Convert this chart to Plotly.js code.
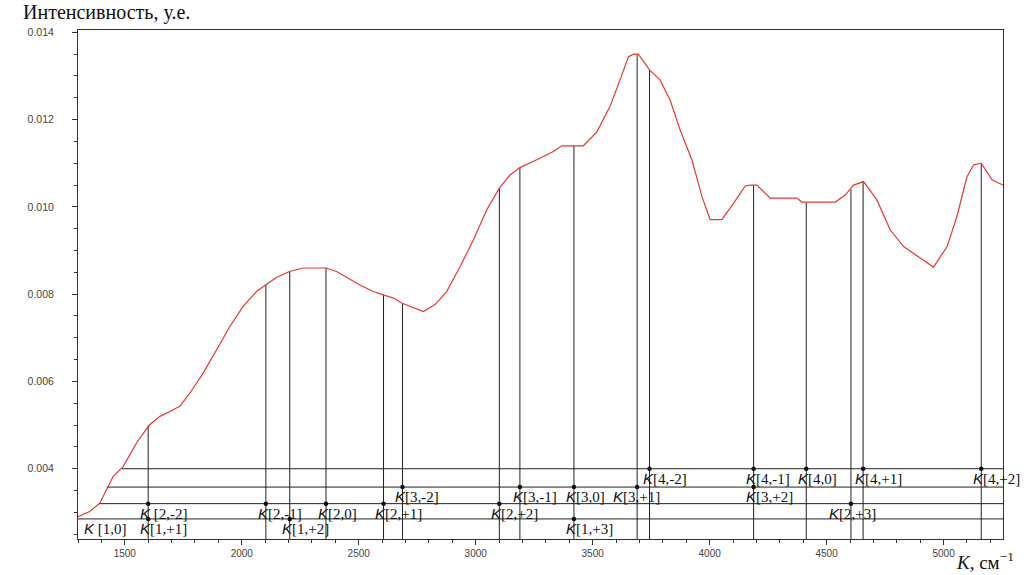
<!DOCTYPE html>
<html>
<head>
<meta charset="utf-8">
<script src="https://cdn.plot.ly/plotly-3.0.1.min.js"></script>
<style>html,body{margin:0;padding:0;background:#fff;}#chart{width:1033px;height:575px;}</style>
</head>
<body>
<div id="chart"></div>
<script>
// Spectrum curve (K in cm^-1, intensity in a.u.)
var curveK = [1300, 1308, 1350, 1393, 1422, 1450, 1493, 1550, 1603, 1650, 1692, 1735, 1778, 1835, 1892, 1949, 2006, 2063, 2102, 2149, 2204, 2263, 2360, 2405, 2448, 2505, 2562, 2605, 2648, 2686, 2719, 2776, 2826, 2876, 2933, 2990, 3047, 3101, 3147, 3189, 3261, 3332, 3368, 3460, 3518, 3574, 3617, 3653, 3675, 3695, 3743, 3788, 3831, 3874, 3924, 3967, 4002, 4052, 4102, 4152, 4175, 4202, 4259, 4373, 4394, 4537, 4580, 4615, 4658, 4715, 4772, 4829, 4886, 4957, 5015, 5057, 5100, 5128, 5161, 5207, 5254];
var curveI = [0.00290, 0.00292, 0.00302, 0.00321, 0.00352, 0.00382, 0.00405, 0.00459, 0.00499, 0.00520, 0.00531, 0.00543, 0.00573, 0.00619, 0.00672, 0.00726, 0.00772, 0.00806, 0.00821, 0.00839, 0.00852, 0.00860, 0.00860, 0.00852, 0.00839, 0.00821, 0.00806, 0.00799, 0.00791, 0.00779, 0.00772, 0.00760, 0.00776, 0.00806, 0.00863, 0.00924, 0.00993, 0.01043, 0.01073, 0.01090, 0.01108, 0.01127, 0.01140, 0.01140, 0.01172, 0.01230, 0.01291, 0.01344, 0.01350, 0.01350, 0.01314, 0.01291, 0.01245, 0.01176, 0.01108, 0.01024, 0.00971, 0.00971, 0.01008, 0.01048, 0.01050, 0.01050, 0.01020, 0.01020, 0.01011, 0.01011, 0.01027, 0.01050, 0.01058, 0.01016, 0.00947, 0.00909, 0.00888, 0.00862, 0.00909, 0.00978, 0.01069, 0.01096, 0.01100, 0.01062, 0.01050];

// Level lines K[1..4, *]
var levelValues = [0.00285, 0.00320, 0.00358, 0.00400];
var levelStartK = [1300, 1390, 1422, 1487];

// Vertical drop lines
var dropK   = [1600, 2103, 2205, 2360, 2606, 2687, 3101, 3189, 3420, 3690, 3743, 4188, 4413, 4604, 4656, 5161];
var dropTop = [0.00499, 0.00822, 0.00852, 0.00860, 0.00799, 0.00779, 0.01043, 0.01090, 0.01140, 0.01350, 0.01314, 0.01050, 0.01010, 0.01040, 0.01058, 0.01100];

// Labels: text index, K position, level number (1..4)
var labelIdx   = ["1,0", "2,-2", "1,+1", "2,-1", "1,+2", "2,0", "2,+1", "3,-2", "2,+2", "3,-1", "3,0", "1,+3", "3,+1", "4,-2", "4,-1", "3,+2", "4,0", "2,+3", "4,+1", "4,+2"];
var labelK     = [1300, 1600, 1600, 2103, 2205, 2360, 2606, 2687, 3101, 3189, 3420, 3420, 3690, 3743, 4188, 4188, 4413, 4604, 4656, 5161];
var labelLevel = [1, 2, 1, 2, 1, 2, 2, 3, 2, 3, 3, 1, 3, 4, 4, 3, 4, 2, 4, 4];
var labelSpace = [true, true, false, false, false, false, false, false, false, false, false, false, false, false, false, false, false, false, false, false];
var labelShift = [4, -10, -10, -10, -10, -10, -11, -9, -10, -9, -10, -10, -26, -9, -10, -10, -10, -24, -10, -10];
var labelDot   = [false, true, true, true, true, true, true, true, true, true, true, true, true, true, true, true, true, true, true, true];

var xMin = 1300, xMax = 5254, yMin = 0.00239, yMax = 0.014053;

var traces = [];
// horizontal level lines
var hx = [], hy = [];
for (var i = 0; i < levelValues.length; i++) {
  hx.push(levelStartK[i], xMax, null);
  hy.push(levelValues[i], levelValues[i], null);
}
traces.push({x: hx, y: hy, mode: 'lines', line: {color: '#222', width: 1}, hoverinfo: 'skip'});
// vertical lines
var vx = [], vy = [];
for (var j = 0; j < dropK.length; j++) {
  vx.push(dropK[j], dropK[j], null);
  vy.push(dropTop[j], yMin, null);
}
traces.push({x: vx, y: vy, mode: 'lines', line: {color: '#222', width: 1}, hoverinfo: 'skip'});
// spectrum
traces.push({x: curveK, y: curveI, mode: 'lines', line: {color: '#e23a36', width: 1.2}, hoverinfo: 'skip'});
// dots
var dx = [], dy = [];
for (var k = 0; k < labelK.length; k++) {
  if (labelDot[k]) { dx.push(labelK[k]); dy.push(levelValues[labelLevel[k] - 1]); }
}
traces.push({x: dx, y: dy, mode: 'markers', marker: {color: '#111', size: 4.5}, hoverinfo: 'skip'});

var annotations = [];
for (var a = 0; a < labelK.length; a++) {
  annotations.push({
    x: labelK[a], y: levelValues[labelLevel[a] - 1], xref: 'x', yref: 'y',
    xanchor: 'left', yanchor: 'top', xshift: labelShift[a], yshift: 1,
    showarrow: false,
    text: '<span style="font-family:Liberation Sans;font-style:italic">K</span>' + (labelSpace[a] ? ' ' : '') + '[' + labelIdx[a] + ']',
    font: {family: 'Liberation Serif, Times New Roman, serif', size: 15, color: '#111'}
  });
}
annotations.push({
  xref: 'paper', yref: 'paper', x: -0.062, y: 1.034, xanchor: 'left', yanchor: 'middle',
  showarrow: false, text: 'Интенсивность, у.е.',
  font: {family: 'Liberation Serif, Times New Roman, serif', size: 20, color: '#111'}
});
annotations.push({
  xref: 'paper', yref: 'paper', x: 0.947, y: -0.043, xanchor: 'left', yanchor: 'middle',
  showarrow: false, text: '<i>K</i>, см<sup>−1</sup>',
  font: {family: 'Liberation Serif, Times New Roman, serif', size: 19, color: '#111'}
});

var layout = {
  width: 1033, height: 575,
  margin: {l: 78, r: 30, t: 30, b: 36, pad: 0},
  paper_bgcolor: '#fff', plot_bgcolor: '#fff',
  showlegend: false,
  xaxis: {
    range: [xMin, xMax], showline: true, linecolor: '#333', linewidth: 1, mirror: true,
    ticks: 'outside', ticklen: 5, tickcolor: '#333', tickwidth: 1,
    tick0: 0, dtick: 500, showgrid: false, zeroline: false,
    tickfont: {family: 'Liberation Sans, Arial, sans-serif', size: 10, color: '#444'},
    minor: {dtick: 100, ticks: 'outside', ticklen: 3, tickcolor: '#333', showgrid: false}
  },
  yaxis: {
    range: [yMin, yMax], showline: true, linecolor: '#333', linewidth: 1, mirror: true,
    ticks: 'outside', ticklen: 5, tickcolor: '#333', tickwidth: 1,
    tick0: 0, dtick: 0.002, tickformat: '.3f', showgrid: false, zeroline: false,
    ticklabelstandoff: 16,
    tickfont: {family: 'Liberation Sans, Arial, sans-serif', size: 10.5, color: '#444'},
    minor: {dtick: 0.0005, ticks: 'outside', ticklen: 3, tickcolor: '#333', showgrid: false}
  },
  annotations: annotations
};

Plotly.newPlot('chart', traces, layout, {staticPlot: true, displayModeBar: false});
</script>
</body>
</html>
